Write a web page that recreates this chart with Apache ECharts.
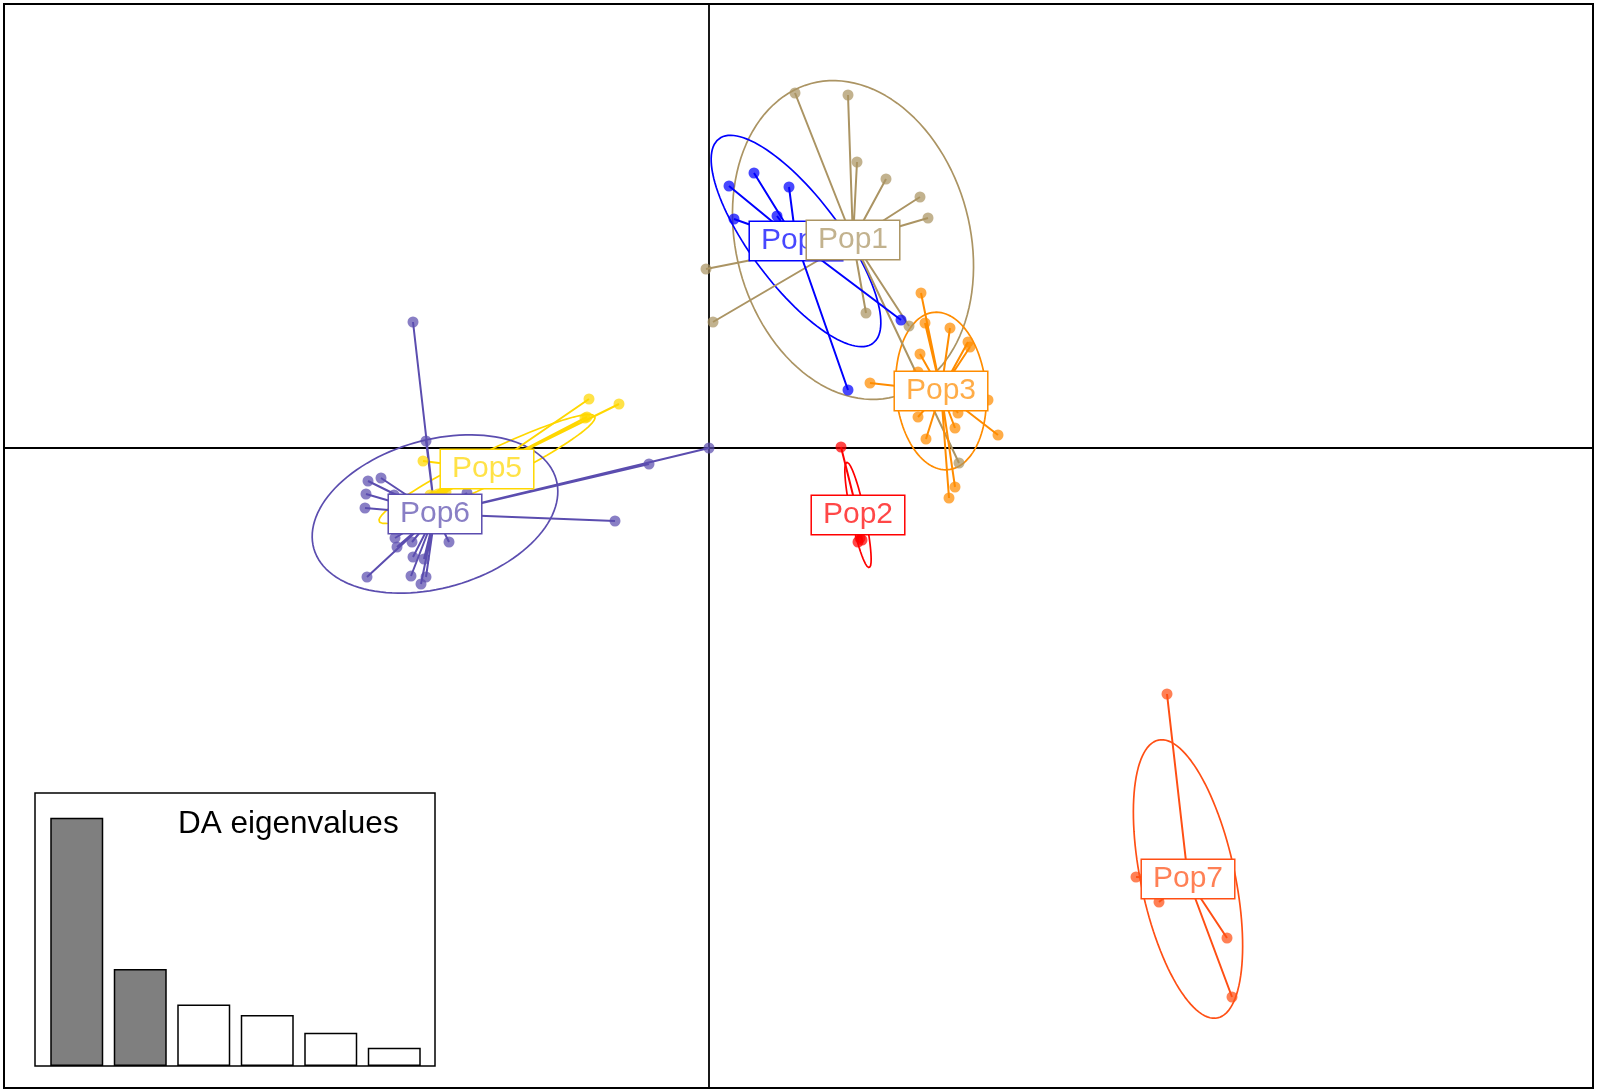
<!DOCTYPE html>
<html>
<head>
<meta charset="utf-8">
<script src="https://cdn.jsdelivr.net/npm/echarts@6/dist/echarts.min.js"></script>
<style>
  html, body { margin: 0; padding: 0; background: #fff; }
  #main { width: 1598px; height: 1092px; }
</style>
</head>
<body>
<div id="main"></div>
<script>
// group names and colours
var groups = ['Pop1', 'Pop2', 'Pop3', 'Pop4', 'Pop5', 'Pop6', 'Pop7'];
var colors = ['#AB9463', '#FF0000', '#FF8C00', '#0000FF', '#FFD700', '#5B4DAF', '#FF4F14'];

// individual scores on LD1 / LD2
var pop1 = [[0.86, 3.55], [1.39, 3.53], [1.48, 2.86], [1.77, 2.69], [2.11, 2.51], [2.19, 2.30],
  [-0.03, 1.79], [0.04, 1.26], [1.57, 1.35], [2.00, 1.22], [2.50, -0.15]];
var pop2 = [[1.32, 0.01], [1.49, -0.94], [1.53, -0.92], [1.51, -0.90]];
var pop3 = [[2.12, 1.55], [2.16, 1.25], [2.41, 1.20], [2.59, 1.06], [2.61, 1.01], [2.11, 0.94],
  [1.61, 0.65], [2.79, 0.48], [2.09, 0.31], [2.49, 0.35], [2.46, 0.20], [2.17, 0.09],
  [2.89, 0.13], [2.46, -0.39], [2.40, -0.50], [2.09, 0.76]];
var pop4 = [[0.20, 2.62], [0.45, 2.75], [0.80, 2.61], [0.68, 2.32], [0.25, 2.29], [1.92, 1.28], [1.39, 0.58]];
var pop5 = [[-1.20, 0.49], [-0.90, 0.44], [-1.22, 0.31], [-1.24, 0.30], [-2.86, -0.13],
  [-2.79, -0.47], [-2.75, -0.48], [-2.71, -0.46], [-2.67, -0.45], [-2.63, -0.44], [-2.77, -0.49], [-2.69, -0.47]];
var pop6 = [[-2.96, 1.26], [-2.83, 0.07], [-3.41, -0.33], [-3.28, -0.30], [-3.43, -0.46], [-3.44, -0.60],
  [-3.15, -0.47], [-2.42, -0.45], [-0.94, -0.73], [-0.60, -0.16], [0.00, 0.00], [-3.14, -0.90],
  [-3.12, -0.99], [-2.97, -0.94], [-2.60, -0.94], [-2.96, -1.09], [-2.85, -1.11], [-3.42, -1.29],
  [-2.98, -1.28], [-2.83, -1.29], [-2.88, -1.36]];
var pop7 = [[4.58, -2.46], [4.27, -4.29], [4.50, -4.54], [5.18, -4.90], [5.23, -5.49]];
var scores = [pop1, pop2, pop3, pop4, pop5, pop6, pop7];

// group centroids
var centroids = [[1.44, 2.08], [1.49, -0.67], [2.32, 0.57], [0.87, 2.07], [-2.22, -0.21], [-2.74, -0.66], [4.79, -4.31]];

// ellipse semi-axes (major, minor) and angle of major axis in degrees
var ellMajor = [1.62, 0.54, 0.79, 1.28, 1.20, 1.26, 1.42];
var ellMinor = [1.17, 0.07, 0.45, 0.445, 0.16, 0.74, 0.47];
var ellAngle = [-75, -78, 95, -53, 26, 16, -78];

// DA eigenvalues (relative)
var eigenvalues = [100, 39.1, 24.8, 20.5, 13.4, 7.4];
var eigenRetained = 2;

function ellipse(c, a, b, deg) {
  var th = deg * Math.PI / 180, out = [];
  for (var i = 0; i <= 120; i++) {
    var t = i / 120 * 2 * Math.PI;
    out.push([c[0] + a * Math.cos(t) * Math.cos(th) - b * Math.sin(t) * Math.sin(th),
              c[1] + a * Math.cos(t) * Math.sin(th) + b * Math.sin(t) * Math.cos(th)]);
  }
  return out;
}

function alpha(hex, a) {
  var n = parseInt(hex.slice(1), 16);
  return 'rgba(' + (n >> 16) + ',' + ((n >> 8) & 255) + ',' + (n & 255) + ',' + a + ')';
}

var series = [];
groups.forEach(function (g, i) {
  series.push({
    type: 'line', xAxisIndex: 0, yAxisIndex: 0, z: 2, silent: true,
    showSymbol: false, symbol: 'none',
    data: ellipse(centroids[i], ellMajor[i], ellMinor[i], ellAngle[i]),
    lineStyle: { color: colors[i], width: 1.7 }
  });
  var star = [];
  scores[i].forEach(function (p) { star.push(centroids[i], p); });
  series.push({
    type: 'line', xAxisIndex: 0, yAxisIndex: 0, z: 3, silent: true,
    showSymbol: false, symbol: 'none', data: star,
    lineStyle: { color: colors[i], width: 2 }
  });
});
groups.forEach(function (g, i) {
  series.push({
    type: 'scatter', xAxisIndex: 0, yAxisIndex: 0, z: 4, silent: true,
    symbolSize: 11, data: scores[i],
    itemStyle: { color: colors[i], opacity: 0.72 }
  });
});
// labels, Pop1 last so it sits over Pop4
[3, 4, 1, 2, 6, 5, 0].forEach(function (i) {
  series.push({
    type: 'scatter', xAxisIndex: 0, yAxisIndex: 0, z: 10, silent: true,
    symbolSize: 0, data: [centroids[i]],
    itemStyle: { opacity: 1 },
    label: {
      show: true, position: 'inside', formatter: groups[i],
      fontFamily: 'Liberation Sans', fontSize: 30, lineHeight: 31,
      color: alpha(colors[i], 0.72),
      backgroundColor: '#fff', borderColor: colors[i], borderWidth: 1.5,
      padding: [4, 11, 3, 11]
    }
  });
});
series.push({
  type: 'bar', xAxisIndex: 1, yAxisIndex: 1, z: 20, barWidth: 53, silent: true,
  data: eigenvalues.map(function (v, k) {
    return { value: v, itemStyle: { color: k < eigenRetained ? '#7F7F7F' : '#fff' } };
  }),
  itemStyle: { borderColor: '#000', borderWidth: 1.5 }
});

var chart = echarts.init(document.getElementById('main'));
chart.setOption({
  animation: false,
  backgroundColor: '#fff',
  title: {
    text: 'DA eigenvalues', left: 178, top: 808, padding: 0, z: 30,
    textStyle: { fontFamily: 'Liberation Sans', fontSize: 31.5, lineHeight: 32, fontWeight: 'normal', color: '#000' }
  },
  grid: [
    { left: 4, top: 4, right: 5, bottom: 4, show: true, borderColor: '#000', borderWidth: 2, backgroundColor: '#fff' },
    { left: 45, top: 793, width: 381, height: 273, z: 15 },
    { left: 35, top: 793, width: 400, height: 273, show: true, borderColor: '#000', borderWidth: 1.5, backgroundColor: '#fff', z: 14 }
  ],
  xAxis: [
    { type: 'value', gridIndex: 0, min: -7.05, max: 8.84, splitLine: { show: false },
      axisLine: { show: true, onZero: true, lineStyle: { color: '#000', width: 1.8 } },
      axisTick: { show: false }, axisLabel: { show: false }, z: 1 },
    { type: 'category', gridIndex: 1, data: ['1', '2', '3', '4', '5', '6'],
      axisLine: { show: false }, axisTick: { show: false }, axisLabel: { show: false } }
  ],
  yAxis: [
    { type: 'value', gridIndex: 0, min: -6.40, max: 4.44, splitLine: { show: false },
      axisLine: { show: true, onZero: true, lineStyle: { color: '#000', width: 1.8 } },
      axisTick: { show: false }, axisLabel: { show: false }, z: 1 },
    { type: 'value', gridIndex: 1, min: 0, max: 110, splitLine: { show: false },
      axisLine: { show: false }, axisTick: { show: false }, axisLabel: { show: false } }
  ],
  series: series
});
</script>
</body>
</html>
